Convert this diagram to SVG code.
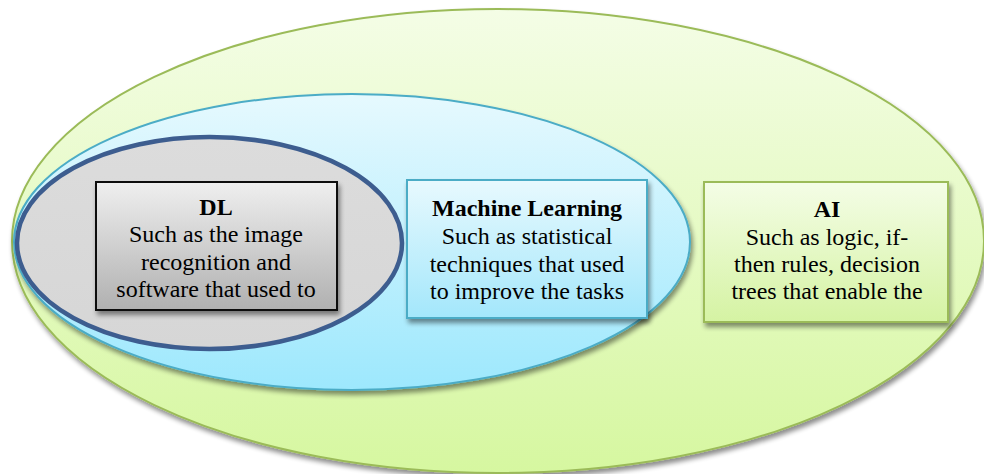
<svg xmlns="http://www.w3.org/2000/svg" width="984" height="474" viewBox="0 0 984 474">
  <defs>
    <linearGradient id="gGreen" x1="0" y1="0" x2="0" y2="1">
      <stop offset="0" stop-color="#f4fde6"/>
      <stop offset="1" stop-color="#d6f7a0"/>
    </linearGradient>
    <linearGradient id="gBlue" x1="0" y1="0" x2="0" y2="1">
      <stop offset="0" stop-color="#e6f9fe"/>
      <stop offset="1" stop-color="#9de8fd"/>
    </linearGradient>
    <linearGradient id="gGray" x1="0" y1="0" x2="0" y2="1">
      <stop offset="0" stop-color="#dcdcdc"/>
      <stop offset="1" stop-color="#d6d6d6"/>
    </linearGradient>
    <linearGradient id="gDLBox" x1="0" y1="0" x2="0" y2="1">
      <stop offset="0" stop-color="#efefef"/>
      <stop offset="1" stop-color="#b0b0b0"/>
    </linearGradient>
    <linearGradient id="gMLBox" x1="0" y1="0" x2="0" y2="1">
      <stop offset="0" stop-color="#e8f9fe"/>
      <stop offset="1" stop-color="#a3e7fb"/>
    </linearGradient>
    <linearGradient id="gAIBox" x1="0" y1="0" x2="0" y2="1">
      <stop offset="0" stop-color="#f4fde6"/>
      <stop offset="1" stop-color="#d5f3a3"/>
    </linearGradient>
    <filter id="shadow" x="-10%" y="-10%" width="120%" height="125%">
      <feGaussianBlur in="SourceAlpha" stdDeviation="2.5"/>
      <feOffset dx="2" dy="4" result="b"/>
      <feComponentTransfer><feFuncA type="linear" slope="0.45"/></feComponentTransfer>
      <feMerge><feMergeNode/><feMergeNode in="SourceGraphic"/></feMerge>
    </filter>
  </defs>
  <style>
    .t { font-family: "Liberation Serif", "Times New Roman", Times, serif; font-size: 24px; fill: #000; text-anchor: middle; }
    .title { font-weight: bold; }
  </style>
  <rect width="984" height="474" fill="#ffffff"/>

  <g id="ai-region">
    <ellipse cx="498" cy="241" rx="486" ry="232" fill="url(#gGreen)" stroke="#9bbb59" stroke-width="2" filter="url(#shadow)"/>
  </g>
  <g id="ml-region">
    <ellipse cx="352" cy="242" rx="338" ry="148" fill="url(#gBlue)" stroke="#4bacc6" stroke-width="2" filter="url(#shadow)"/>
  </g>
  <g id="dl-region">
    <ellipse cx="209.5" cy="243" rx="192.5" ry="106" fill="url(#gGray)" stroke="#3d5d8f" stroke-width="4.5"/>
  </g>

  <g id="dl-box" class="t" font-family="Liberation Serif, serif">
    <rect x="96" y="182" width="241" height="128" fill="url(#gDLBox)" stroke="#111" stroke-width="2" filter="url(#shadow)"/>
    <text x="216" y="215" class="t title">DL</text>
    <text x="216" y="242" class="t">Such as the image</text>
    <text x="216" y="270" class="t">recognition and</text>
    <text x="216" y="297" class="t">software that used to</text>
  </g>

  <g id="ml-box" class="t" font-family="Liberation Serif, serif">
    <rect x="407" y="180" width="240" height="138" fill="url(#gMLBox)" stroke="#4bacc6" stroke-width="2" filter="url(#shadow)"/>
    <text x="527" y="216" class="t title">Machine Learning</text>
    <text x="527" y="244" class="t">Such as statistical</text>
    <text x="527" y="272" class="t">techniques that used</text>
    <text x="527" y="299" class="t">to improve the tasks</text>
  </g>

  <g id="ai-box" class="t" font-family="Liberation Serif, serif">
    <rect x="704" y="182" width="244" height="140" fill="url(#gAIBox)" stroke="#9bbb59" stroke-width="2" filter="url(#shadow)"/>
    <text x="827" y="217" class="t title">AI</text>
    <text x="827" y="245" class="t">Such as logic, if-</text>
    <text x="827" y="272" class="t">then rules, decision</text>
    <text x="827" y="299" class="t">trees that enable the</text>
  </g>

  <g id="connectors"/>
</svg>
